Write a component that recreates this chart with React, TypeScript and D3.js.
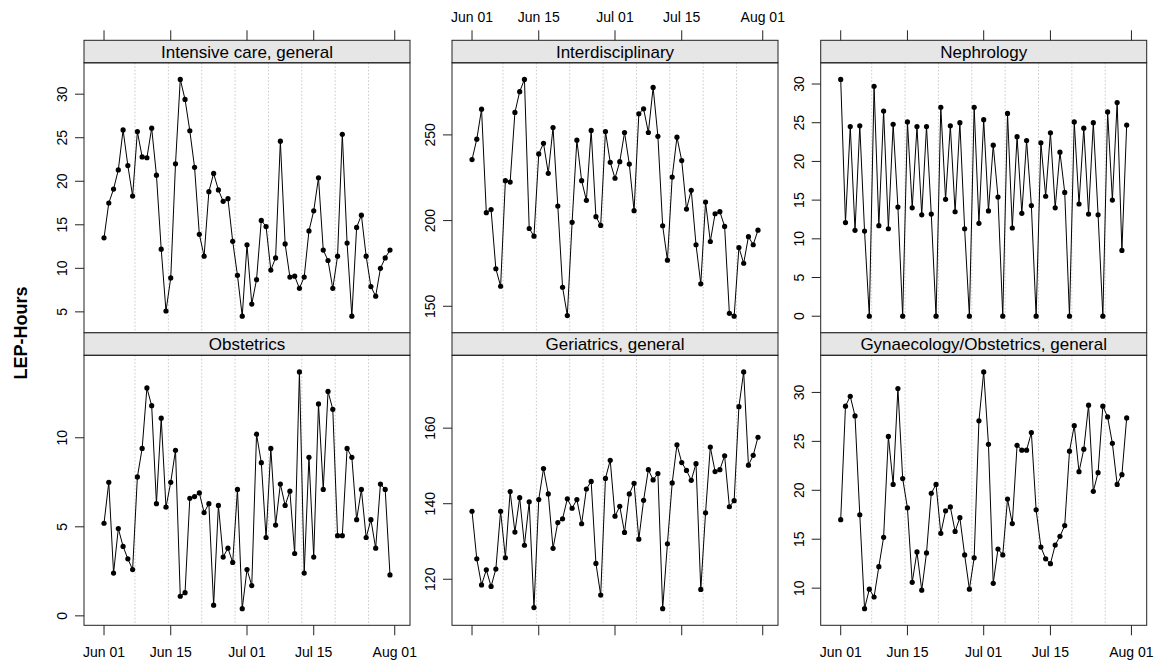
import React from 'react';
import * as d3 from 'd3';

// daily LEP-hours per department, Jun 01 - Jul 31
const firstDay = new Date(Date.UTC(2015, 5, 1));
const lastDay = new Date(Date.UTC(2015, 6, 31));

const intensiveCare = [13.5, 17.5, 19.1, 21.3, 25.9, 21.8, 18.3, 25.7, 22.8, 22.7, 26.1, 20.7, 12.2, 5.1, 8.9, 22.0, 31.7, 29.4, 25.8, 21.6, 13.9, 11.4, 18.8, 20.9, 19.0, 17.7, 18.0, 13.1, 9.2, 4.5, 12.7, 5.9, 8.7, 15.5, 14.8, 9.8, 11.2, 24.6, 12.8, 9.0, 9.1, 7.7, 9.0, 14.3, 16.6, 20.4, 12.1, 10.9, 7.7, 11.4, 25.4, 12.9, 4.5, 14.7, 16.1, 11.4, 7.9, 6.8, 10.0, 11.2, 12.1];
const interdisciplinary = [235.6, 247.5, 265.0, 204.6, 206.4, 171.9, 161.7, 223.3, 222.5, 263.1, 275.2, 282.4, 195.4, 190.9, 238.9, 245.1, 227.6, 254.3, 208.5, 161.1, 144.6, 199.0, 246.9, 223.3, 211.8, 252.6, 202.3, 197.2, 252.0, 234.0, 224.7, 234.4, 251.4, 233.0, 205.8, 262.3, 265.2, 251.4, 277.7, 249.2, 197.0, 176.9, 225.4, 248.7, 235.0, 206.7, 217.7, 185.9, 163.1, 210.8, 187.8, 204.0, 205.2, 196.6, 145.9, 144.2, 184.3, 175.1, 190.6, 185.9, 194.4];
const nephrology = [30.6, 12.1, 24.5, 11.1, 24.6, 11.0, 0, 29.7, 11.7, 26.5, 11.3, 24.8, 14.1, 0, 25.1, 14.0, 24.5, 13.1, 24.5, 13.2, 0, 27.0, 15.1, 24.6, 13.5, 25.0, 11.3, 0, 27.0, 12.0, 25.4, 13.6, 22.1, 15.4, 0, 26.2, 11.4, 23.2, 13.3, 22.7, 14.3, 0, 22.4, 15.5, 23.7, 14.0, 21.2, 16.0, 0, 25.1, 14.5, 24.3, 13.2, 25.0, 13.1, 0, 26.4, 15.0, 27.6, 8.5, 24.7];
const obstetrics = [5.2, 7.5, 2.4, 4.9, 3.9, 3.2, 2.6, 7.8, 9.4, 12.8, 11.8, 6.3, 11.1, 6.1, 7.5, 9.3, 1.1, 1.3, 6.6, 6.7, 6.9, 5.8, 6.3, 0.6, 6.2, 3.3, 3.8, 3.0, 7.1, 0.4, 2.6, 1.7, 10.2, 8.6, 4.4, 9.4, 5.1, 7.4, 6.2, 7.0, 3.5, 13.7, 2.4, 8.9, 3.3, 11.9, 7.1, 12.6, 11.6, 4.5, 4.5, 9.4, 8.9, 5.4, 7.1, 4.4, 5.4, 3.8, 7.4, 7.1, 2.3];
const geriatrics = [138.0, 125.4, 118.5, 122.5, 118.1, 122.7, 138.0, 125.7, 143.2, 132.5, 141.6, 129.0, 140.5, 112.5, 141.1, 149.3, 142.6, 128.2, 135.0, 136.0, 141.3, 138.8, 141.1, 134.7, 143.9, 145.9, 124.2, 115.8, 146.7, 151.5, 136.7, 139.3, 132.4, 142.6, 145.4, 130.6, 140.9, 149.0, 146.3, 148.0, 112.2, 129.4, 145.5, 155.6, 150.9, 148.8, 146.2, 150.6, 117.3, 137.6, 155.0, 148.5, 149.0, 152.7, 139.2, 140.8, 165.7, 174.9, 150.2, 152.8, 157.6];
const gynObstetrics = [17.0, 28.6, 29.6, 27.6, 17.5, 7.9, 9.9, 9.1, 12.2, 15.2, 25.5, 20.6, 30.4, 21.2, 18.2, 10.6, 13.7, 9.8, 13.6, 19.7, 20.6, 15.6, 17.9, 18.3, 15.8, 17.2, 13.4, 9.9, 13.1, 27.1, 32.1, 24.7, 10.5, 14.0, 13.4, 19.1, 16.6, 24.6, 24.1, 24.1, 25.9, 18.0, 14.2, 13.0, 12.5, 14.4, 15.3, 16.4, 24.0, 26.6, 21.9, 24.2, 28.7, 19.9, 21.8, 28.6, 27.5, 24.8, 20.6, 21.6, 27.4];

const panelTitles = ['Intensive care, general', 'Interdisciplinary', 'Nephrology', 'Obstetrics', 'Geriatrics, general', 'Gynaecology/Obstetrics, general'];
const panelValues = [intensiveCare, interdisciplinary, nephrology, obstetrics, geriatrics, gynObstetrics];
const panelYTicks = [
  [5, 10, 15, 20, 25, 30],
  [150, 200, 250],
  [0, 5, 10, 15, 20, 25, 30],
  [0, 5, 10],
  [120, 140, 160],
  [10, 15, 20, 25, 30],
];

const dateTicks = ['2015-06-01', '2015-06-15', '2015-07-01', '2015-07-15', '2015-08-01'];
const dateTickLabels = ['Jun 01', 'Jun 15', 'Jul 01', 'Jul 15', 'Aug 01'];
const weekLines = ['2015-06-07T12:00Z', '2015-06-14T12:00Z', '2015-06-21T12:00Z', '2015-06-28T12:00Z', '2015-07-05T12:00Z', '2015-07-12T12:00Z', '2015-07-19T12:00Z', '2015-07-26T12:00Z'];

const W = 1161;
const H = 661;
const colLeft = [84, 452, 820.7];
const panelW = 326;
const rowTop = [40.3, 332.8];
const stripH = 22.5;
const panelH = 270;
const font = '"Liberation Sans", Arial, sans-serif';

const days = d3.utcDay.range(firstDay, d3.utcDay.offset(lastDay, 1));

function padded(lo: number, hi: number) {
  const p = (hi - lo) * 0.07;
  return [lo - p, hi + p];
}

function Panel({ idx }: { idx: number }) {
  const col = idx % 3;
  const row = Math.floor(idx / 3);
  const left = colLeft[col];
  const top = rowTop[row];
  const pTop = top + stripH;
  const pBot = pTop + panelH;
  const values = panelValues[idx];

  const [xa, xb] = padded(firstDay.getTime(), lastDay.getTime());
  const x = d3.scaleUtc().domain([new Date(xa), new Date(xb)]).range([left, left + panelW]);

  const [ya, yb] = padded(d3.min(values)!, d3.max(values)!);
  const y = d3.scaleLinear().domain([ya, yb]).range([pBot, pTop]);

  const pts = values.map((v, i) => [x(days[i]), y(v)] as [number, number]);
  const line = d3.line()(pts) || '';

  const topTicks = row === 0;
  const labelsTop = col === 1;

  return (
    <g>
      {weekLines.map(w => {
        const xx = x(new Date(w));
        return <line key={w} x1={xx} x2={xx} y1={pTop} y2={pBot} stroke="#c8c8c8" strokeDasharray="1.5,2" strokeWidth={1} />;
      })}
      <path d={line} fill="none" stroke="#000" strokeWidth={1} />
      {pts.map((p, i) => <circle key={i} cx={p[0]} cy={p[1]} r={2.6} fill="#000" />)}

      <rect x={left} y={top} width={panelW} height={stripH} fill="#e6e6e6" stroke="#222" strokeWidth={1} />
      <text x={left + panelW / 2} y={top + stripH / 2 + 6} textAnchor="middle" fontSize={17} fontFamily={font} fill="#000">{panelTitles[idx]}</text>
      <rect x={left} y={pTop} width={panelW} height={panelH} fill="none" stroke="#222" strokeWidth={1} />

      {/* y axis, left side only */}
      {panelYTicks[idx].map(v => (
        <g key={v}>
          <line x1={left - 9} x2={left} y1={y(v)} y2={y(v)} stroke="#222" />
          <text transform={`translate(${left - 17},${y(v)}) rotate(-90)`} textAnchor="middle" fontSize={14} fontFamily={font} fill="#000">{v}</text>
        </g>
      ))}

      {/* x axis, labels alternate bottom / top */}
      {dateTicks.map((d, i) => {
        const xx = x(new Date(d));
        return topTicks ? (
          <g key={d}>
            <line x1={xx} x2={xx} y1={top - 10} y2={top} stroke="#222" />
            {labelsTop && <text x={xx} y={top - 18.5} textAnchor="middle" fontSize={14} fontFamily={font} fill="#000">{dateTickLabels[i]}</text>}
          </g>
        ) : (
          <g key={d}>
            <line x1={xx} x2={xx} y1={pBot} y2={pBot + 10} stroke="#222" />
            {!labelsTop && <text x={xx} y={pBot + 31.5} textAnchor="middle" fontSize={14} fontFamily={font} fill="#000">{dateTickLabels[i]}</text>}
          </g>
        );
      })}
    </g>
  );
}

export default function App() {
  return (
    <svg width={W} height={H} style={{ position: 'absolute', left: 0, top: 0, background: '#fff' }}>
      <rect width={W} height={H} fill="#fff" />
      {panelTitles.map((_, i) => <Panel key={i} idx={i} />)}
      <text transform={`translate(27,333) rotate(-90)`} textAnchor="middle" fontSize={18} fontWeight="bold" fontFamily={font} fill="#000">LEP-Hours</text>
    </svg>
  );
}
